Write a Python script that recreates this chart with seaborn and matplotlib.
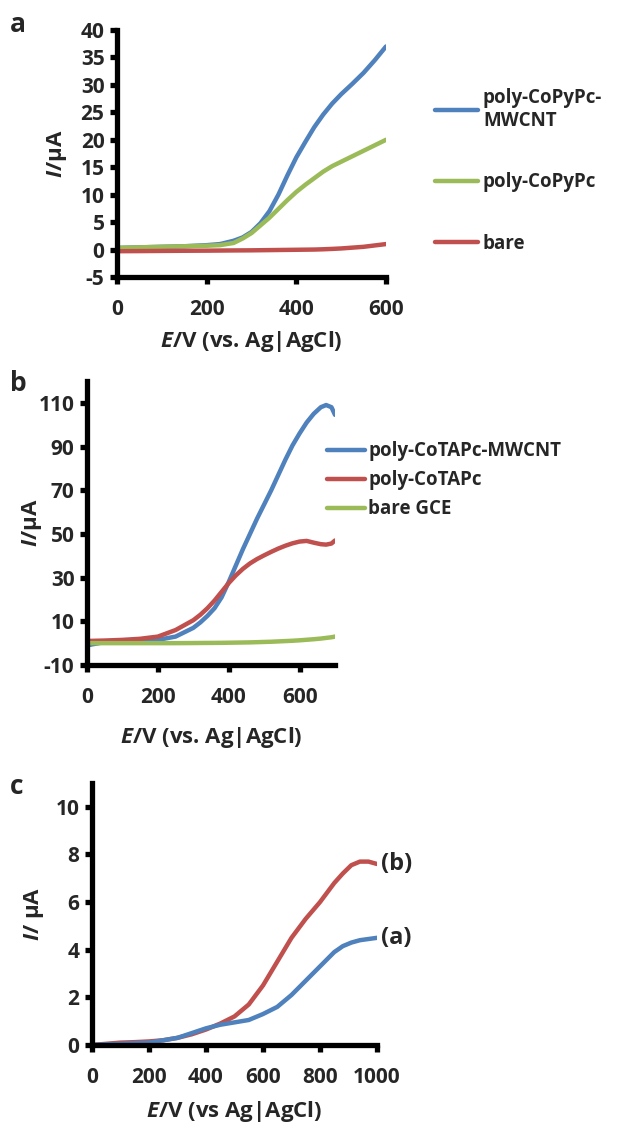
import numpy as np
import pandas as pd
import matplotlib.pyplot as plt
import seaborn as sns

# cores no estilo Office
BLUE = '#4F81BD'
RED = '#C0504D'
GREEN = '#9BBB59'

# painel a
a_E = [0, 50, 100, 150, 200, 230, 260, 280, 300, 320, 340, 360, 380, 400, 420, 440,
       460, 480, 500, 525, 550, 575, 600]
a_mwcnt = [0.3, 0.4, 0.5, 0.6, 0.8, 1.0, 1.6, 2.2, 3.2, 4.8, 7.0, 10.0, 13.5, 16.8,
           19.6, 22.3, 24.6, 26.6, 28.3, 30.2, 32.2, 34.5, 37.0]
a_copypc = [0.3, 0.4, 0.5, 0.6, 0.7, 0.8, 1.2, 2.0, 3.0, 4.4, 5.8, 7.4, 9.0, 10.5,
            11.8, 13.0, 14.2, 15.2, 16.0, 17.0, 18.0, 19.0, 20.0]
a_bare = [-0.3, -0.28, -0.25, -0.22, -0.2, -0.18, -0.16, -0.15, -0.14, -0.12, -0.1,
          -0.08, -0.06, -0.04, -0.02, 0.0, 0.05, 0.12, 0.2, 0.35, 0.5, 0.75, 1.0]

# painel b
b_E = [0, 50, 100, 150, 200, 250, 300, 320, 340, 360, 380, 400, 420, 440, 460, 480,
       500, 520, 540, 560, 580, 600, 620, 640, 660, 675, 690, 700]
b_mwcnt = [-1.0, 0.5, 1.0, 1.2, 1.5, 3.0, 7.0, 9.5, 12.5, 16.0, 21.0, 28.0, 35.5,
           43.0, 50.0, 57.0, 63.5, 70.0, 77.0, 84.0, 90.5, 96.0, 101.0, 105.0,
           108.0, 109.0, 108.0, 104.5]
b_cotapc = [1.0, 1.2, 1.5, 2.0, 3.0, 6.0, 10.5, 13.0, 16.0, 19.5, 23.5, 27.5, 31.0,
            34.0, 36.5, 38.5, 40.2, 41.8, 43.3, 44.6, 45.7, 46.5, 46.8, 46.0, 45.3,
            45.1, 45.6, 47.0]
b_bare = [0.0, 0.0, 0.0, 0.0, 0.0, 0.0, 0.05, 0.08, 0.1, 0.12, 0.15, 0.2, 0.25, 0.3,
          0.35, 0.45, 0.55, 0.65, 0.8, 0.95, 1.1, 1.3, 1.55, 1.8, 2.1, 2.4, 2.7, 3.0]

# painel c
c_E = [0, 50, 100, 150, 200, 250, 300, 350, 400, 450, 500, 550, 600, 650, 700, 750,
       800, 850, 880, 910, 940, 970, 1000]
c_b = [0.0, 0.05, 0.1, 0.12, 0.15, 0.2, 0.3, 0.45, 0.65, 0.9, 1.2, 1.7, 2.5, 3.5,
       4.5, 5.3, 6.0, 6.8, 7.2, 7.55, 7.7, 7.7, 7.6]
c_a = [0.0, 0.03, 0.05, 0.08, 0.1, 0.2, 0.3, 0.5, 0.7, 0.85, 0.95, 1.05, 1.3, 1.6,
       2.1, 2.7, 3.3, 3.9, 4.15, 4.3, 4.4, 4.45, 4.5]

sns.set_style('white')
plt.rcParams['font.family'] = ['Open Sans', 'DejaVu Sans']
plt.rcParams['font.weight'] = 'bold'
plt.rcParams['axes.unicode_minus'] = False
plt.rcParams['mathtext.fontset'] = 'custom'
plt.rcParams['mathtext.it'] = 'Open Sans:bold:italic'
plt.rcParams['mathtext.rm'] = 'Open Sans:bold'

TICK = 15
LAB = 16
LEG = 13.5

fig = plt.figure(figsize=(6.44, 11.28), dpi=100)


def estilo(ax, xlim, ylim, xticks, yticks):
    ax.set_xlim(*xlim)
    ax.set_ylim(*ylim)
    ax.set_xticks(xticks)
    ax.set_yticks(yticks)
    for s in ['top', 'right']:
        ax.spines[s].set_visible(False)
    for s in ['left', 'bottom']:
        ax.spines[s].set_linewidth(3.8)
        ax.spines[s].set_color('black')
    ax.tick_params(axis='both', direction='out', length=5, width=3.8, color='black',
                   labelsize=TICK, pad=4, left=True, bottom=True)
    ax.tick_params(axis='x', pad=11)
    for t in ax.get_xticklabels() + ax.get_yticklabels():
        t.set_fontweight('bold')
    ax.set_facecolor('white')


# a
ax1 = fig.add_axes([117 / 644, 1 - 277 / 1128, 269 / 644, 247 / 1128])
sns.lineplot(x=a_E, y=a_mwcnt, ax=ax1, color=BLUE, lw=3.2, label='poly-CoPyPc-\nMWCNT')
sns.lineplot(x=a_E, y=a_copypc, ax=ax1, color=GREEN, lw=3.2, label='poly-CoPyPc')
sns.lineplot(x=a_E, y=a_bare, ax=ax1, color=RED, lw=3.2, label='bare')
estilo(ax1, (0, 600), (-5, 40), [0, 200, 400, 600], range(-5, 41, 5))
ax1.set_xlabel('$\\mathit{E}$/V (vs. Ag|AgCl)', fontsize=LAB, fontweight='bold', labelpad=6)
ax1.set_ylabel('$\\mathit{I}$/µA', fontsize=LAB, fontweight='bold', labelpad=8)
ax1.legend(loc='center left', bbox_to_anchor=(1.12, 0.43), frameon=False,
           handlelength=2.3, handletextpad=0.25, labelspacing=2.2,
           prop={'weight': 'bold', 'size': LEG})

# b
ax2 = fig.add_axes([87 / 644, 1 - 665 / 1128, 248 / 644, 284 / 1128])
sns.lineplot(x=b_E, y=b_mwcnt, ax=ax2, color=BLUE, lw=3.2, label='poly-CoTAPc-MWCNT')
sns.lineplot(x=b_E, y=b_cotapc, ax=ax2, color=RED, lw=3.2, label='poly-CoTAPc')
sns.lineplot(x=b_E, y=b_bare, ax=ax2, color=GREEN, lw=3.2, label='bare GCE')
estilo(ax2, (0, 700), (-10, 120), [0, 200, 400, 600], range(-10, 111, 20))
ax2.set_xlabel('$\\mathit{E}$/V (vs. Ag|AgCl)', fontsize=LAB, fontweight='bold', labelpad=12)
ax2.set_ylabel('$\\mathit{I}$/µA', fontsize=LAB, fontweight='bold', labelpad=-4)
ax2.legend(loc='center left', bbox_to_anchor=(0.90, 0.65), frameon=False,
           handlelength=2.0, handletextpad=0.2, labelspacing=0.48,
           prop={'weight': 'bold', 'size': LEG})

# c
ax3 = fig.add_axes([92 / 644, 1 - 1045 / 1128, 285 / 644, 262 / 1128])
sns.lineplot(x=c_E, y=c_b, ax=ax3, color=RED, lw=3.2)
sns.lineplot(x=c_E, y=c_a, ax=ax3, color=BLUE, lw=3.2)
estilo(ax3, (0, 1000), (0, 11), [0, 200, 400, 600, 800, 1000], range(0, 11, 2))
ax3.set_xlabel('$\\mathit{E}$/V (vs Ag|AgCl)', fontsize=LAB, fontweight='bold', labelpad=8)
ax3.set_ylabel('$\\mathit{I}$/ µA', fontsize=LAB, fontweight='bold', labelpad=7)
ax3.text(1015, c_b[-1], '(b)', fontsize=17, fontweight='bold', va='center', ha='left')
ax3.text(1015, c_a[-1], '(a)', fontsize=17, fontweight='bold', va='center', ha='left')

# letras dos paineis
fig.text(10 / 644, 1 - 25 / 1128, 'a', fontsize=19, fontweight='bold', va='center')
fig.text(10 / 644, 1 - 383 / 1128, 'b', fontsize=19, fontweight='bold', va='center')
fig.text(10 / 644, 1 - 787 / 1128, 'c', fontsize=19, fontweight='bold', va='center')

plt.savefig('out.png', dpi=100, facecolor='white')
